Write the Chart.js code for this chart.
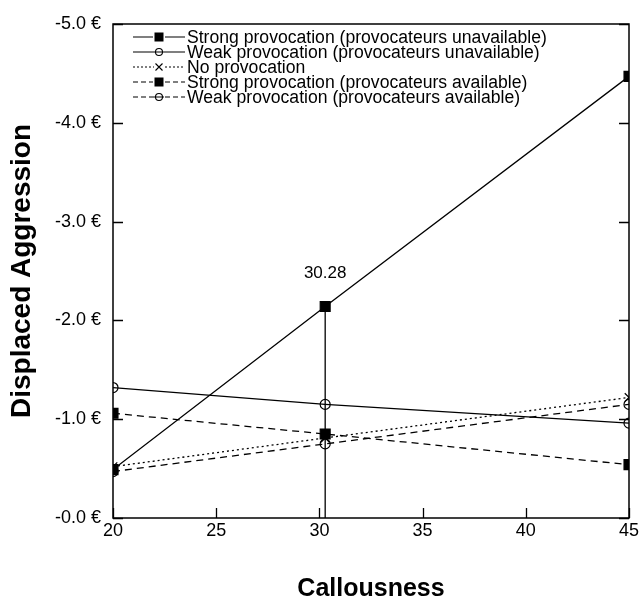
<!DOCTYPE html>
<html>
<head>
<meta charset="utf-8">
<script src="https://cdn.jsdelivr.net/npm/chart.js@4/dist/chart.umd.min.js"></script>
<style>
  html, body { margin: 0; padding: 0; background: #fff; }
  #wrap { width: 639px; height: 600px; }
</style>
</head>
<body>
<div id="wrap"><canvas id="c" width="639" height="600"></canvas></div>
<script>
// ---- data ----
const callousness = [20, 30.28, 45];
const strongUnavailable = [0.49, 2.14, 4.47];
const weakUnavailable = [1.32, 1.15, 0.96];
const noProvocation = [0.52, 0.81, 1.22];
const strongAvailable = [1.06, 0.85, 0.54];
const weakAvailable = [0.47, 0.75, 1.15];
const seriesNames = [
  'Strong provocation (provocateurs unavailable)',
  'Weak provocation (provocateurs unavailable)',
  'No provocation',
  'Strong provocation (provocateurs available)',
  'Weak provocation (provocateurs available)'
];
const xTitle = 'Callousness';
const yTitle = 'Displaced Aggression';
const xTicks = [20, 25, 30, 35, 40, 45];
const yTicks = [0, 1, 2, 3, 4, 5];
const highlightIndex = 1; // the 30.28 point

const FONT = "'Liberation Sans', Arial, Helvetica, sans-serif";
const toXY = (vals) => vals.map((v, i) => ({ x: callousness[i], y: v }));

const styles = [
  { dash: [], pointStyle: 'rect', radius: 7, fill: '#000' },
  { dash: [], pointStyle: 'circle', radius: 5, fill: 'rgba(0,0,0,0)' },
  { dash: [2, 3], pointStyle: 'crossRot', radius: 6, fill: 'rgba(0,0,0,0)' },
  { dash: [7, 5], pointStyle: 'rect', radius: 7, fill: '#000' },
  { dash: [7, 5], pointStyle: 'circle', radius: 5, fill: 'rgba(0,0,0,0)' }
];
const seriesData = [strongUnavailable, weakUnavailable, noProvocation, strongAvailable, weakAvailable];

const datasets = seriesData.map((vals, i) => ({
  label: seriesNames[i],
  data: toXY(vals),
  borderColor: '#000',
  borderWidth: 1.3,
  borderDash: styles[i].dash,
  pointStyle: styles[i].pointStyle,
  pointRadius: styles[i].radius,
  pointHoverRadius: styles[i].radius,
  pointBackgroundColor: styles[i].fill,
  pointBorderColor: '#000',
  pointBorderWidth: 1.2,
  fill: false,
  tension: 0
}));
// vertical drop line at the highlighted callousness value
datasets.push({
  label: 'drop',
  data: [
    { x: callousness[highlightIndex], y: strongUnavailable[highlightIndex] },
    { x: callousness[highlightIndex], y: 0 }
  ],
  borderColor: '#000',
  borderWidth: 1.3,
  pointRadius: 0,
  fill: false
});

function drawMarker(ctx, st, x, y, r) {
  ctx.save();
  ctx.setLineDash([]);
  ctx.lineWidth = 1.1;
  ctx.strokeStyle = '#000';
  ctx.fillStyle = st.fill;
  if (st.pointStyle === 'rect') {
    const s = r;
    ctx.fillRect(x - s, y - s, 2 * s, 2 * s);
  } else if (st.pointStyle === 'circle') {
    ctx.beginPath(); ctx.arc(x, y, r, 0, Math.PI * 2); ctx.stroke();
  } else if (st.pointStyle === 'crossRot') {
    ctx.beginPath();
    ctx.moveTo(x - r, y - r); ctx.lineTo(x + r, y + r);
    ctx.moveTo(x + r, y - r); ctx.lineTo(x - r, y + r);
    ctx.stroke();
  }
  ctx.restore();
}

const framePlugin = {
  id: 'frame',
  afterDatasetsDraw(chart) {
    const { ctx, chartArea: { left, right, top, bottom }, scales: { x, y } } = chart;
    ctx.save();
    ctx.strokeStyle = '#000';
    ctx.lineWidth = 1.5;
    ctx.setLineDash([]);
    ctx.strokeRect(left, top, right - left, bottom - top);
    ctx.lineWidth = 1.3;
    ctx.beginPath();
    y.ticks.forEach(t => {
      const py = Math.round(y.getPixelForValue(t.value)) + 0.5;
      ctx.moveTo(left, py); ctx.lineTo(left + 10, py);
      ctx.moveTo(right, py); ctx.lineTo(right - 10, py);
    });
    x.ticks.forEach(t => {
      const px = Math.round(x.getPixelForValue(t.value)) + 0.5;
      ctx.moveTo(px, bottom); ctx.lineTo(px, bottom - 10);
    });
    ctx.stroke();

    // value label above highlighted point
    const hx = x.getPixelForValue(callousness[highlightIndex]);
    const hy = y.getPixelForValue(strongUnavailable[highlightIndex]);
    ctx.fillStyle = '#000';
    ctx.font = '17px ' + FONT;
    ctx.textAlign = 'center';
    ctx.textBaseline = 'middle';
    ctx.fillText(callousness[highlightIndex].toFixed(2), hx, hy - 33);

    // legend
    const lx = left + 20, sw = 52, tx = lx + sw + 2;
    let ly = top + 13;
    ctx.font = '17.6px ' + FONT;
    ctx.textAlign = 'left';
    seriesNames.forEach((name, i) => {
      const st = styles[i];
      ctx.save();
      ctx.lineWidth = 1.2;
      ctx.setLineDash(st.dash.length ? (st.dash[0] > 3 ? [5, 3] : [2, 2]) : []);
      ctx.beginPath(); ctx.moveTo(lx, ly); ctx.lineTo(lx + sw, ly); ctx.stroke();
      ctx.restore();
      if (st.pointStyle === 'rect') {
        ctx.save(); ctx.fillStyle = '#fff'; ctx.fillRect(lx + sw / 2 - 6, ly - 5, 12, 10); ctx.restore();
        drawMarker(ctx, st, lx + sw / 2, ly, 4.5);
      } else if (st.pointStyle === 'circle') {
        ctx.save(); ctx.fillStyle = '#fff'; ctx.fillRect(lx + sw / 2 - 5, ly - 5, 10, 10); ctx.restore();
        ctx.save(); ctx.lineWidth = 1; ctx.beginPath(); ctx.moveTo(lx + sw / 2 - 5, ly); ctx.lineTo(lx + sw / 2 + 5, ly); ctx.stroke(); ctx.restore();
        drawMarker(ctx, st, lx + sw / 2, ly, 3.5);
      } else {
        ctx.save(); ctx.fillStyle = '#fff'; ctx.fillRect(lx + sw / 2 - 5, ly - 5, 10, 10); ctx.restore();
        drawMarker(ctx, st, lx + sw / 2, ly, 3.5);
      }
      ctx.fillStyle = '#000';
      ctx.fillText(name, tx, ly + 1);
      ly += 15;
    });
    ctx.restore();
  }
};

new Chart(document.getElementById('c'), {
  type: 'line',
  data: { datasets },
  options: {
    responsive: false,
    animation: false,
    events: [],
    layout: { padding: { top: 24, right: 10, bottom: 0, left: 0 } },
    plugins: { legend: { display: false }, tooltip: { enabled: false } },
    scales: {
      x: {
        type: 'linear',
        min: 20, max: 45,
        afterBuildTicks: (s) => { s.ticks = xTicks.map(v => ({ value: v })); },
        afterFit: (s) => { s.height = 82; s.paddingRight = 0; s.paddingLeft = 0; },
        grid: { display: false, drawTicks: false },
        border: { display: false },
        ticks: {
          padding: 2,
          color: '#000',
          font: { family: FONT, size: 18 },
          callback: (v) => String(v)
        },
        title: {
          display: true, text: xTitle, color: '#000',
          font: { family: FONT, size: 25, weight: 'bold', lineHeight: 1 },
          padding: { top: 0, bottom: -2 }
        }
      },
      y: {
        type: 'linear',
        min: 0, max: 5,
        afterBuildTicks: (s) => { s.ticks = yTicks.map(v => ({ value: v })); },
        afterFit: (s) => { s.width = 113; s.paddingTop = 0; s.paddingBottom = 0; },
        grid: { display: false, drawTicks: false },
        border: { display: false },
        ticks: {
          padding: 12,
          color: '#000',
          font: { family: FONT, size: 18 },
          callback: (v) => '-' + Number(v).toFixed(1) + ' €'
        },
        title: {
          display: true, text: yTitle, color: '#000',
          font: { family: FONT, size: 28, weight: 'bold', lineHeight: 1 },
          padding: { top: 8, bottom: 0 }
        }
      }
    }
  },
  plugins: [framePlugin]
});
</script>
</body>
</html>
